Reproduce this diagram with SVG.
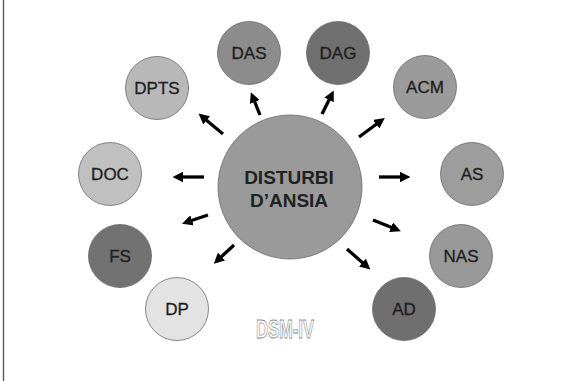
<svg xmlns="http://www.w3.org/2000/svg" width="572" height="381" viewBox="0 0 572 381">
<style>
.n{stroke:#6a6a6a;stroke-width:0.8}
.t{font-family:"Liberation Sans",Arial,sans-serif;font-size:17px;fill:#1e1e1e;stroke:#1e1e1e;stroke-width:0.3;text-anchor:middle}
.big{font-family:"Liberation Sans",Arial,sans-serif;font-size:19px;font-weight:bold;fill:#222;text-anchor:middle}
.a{stroke:#000;stroke-width:3.3;fill:none;marker-end:url(#ah)}
</style>
<defs>
<marker id="ah" viewBox="0 0 10 10" refX="2" refY="5" markerWidth="3.2" markerHeight="3.2" orient="auto" markerUnits="strokeWidth">
<path d="M0,0 L10,5 L0,10 z" fill="#000"/>
</marker>
</defs>
<rect width="572" height="381" fill="#fff"/>
<line x1="3.5" y1="0" x2="3.5" y2="381" stroke="#555" stroke-width="1.3"/>
<g id="center"><circle class="n" cx="290" cy="187" r="72" fill="#9a9a9a"/><text class="big" x="289" y="184">DISTURBI</text><text class="big" x="289" y="207">D’ANSIA</text></g>
<g id="DAS"><circle class="n" cx="249" cy="53" r="31.5" fill="#8c8c8c"/><text class="t" x="249" y="59">DAS</text></g>
<g id="DAG"><circle class="n" cx="338" cy="53" r="31.5" fill="#707070"/><text class="t" x="338" y="59">DAG</text></g>
<g id="DPTS"><circle class="n" cx="157" cy="88" r="31.5" fill="#b8b8b8"/><text class="t" x="157" y="94">DPTS</text></g>
<g id="ACM"><circle class="n" cx="425" cy="87" r="31.5" fill="#9b9b9b"/><text class="t" x="425" y="93">ACM</text></g>
<g id="DOC"><circle class="n" cx="110" cy="174" r="31.5" fill="#c0c0c0"/><text class="t" x="110" y="180">DOC</text></g>
<g id="AS"><circle class="n" cx="472" cy="174" r="31.5" fill="#9d9d9d"/><text class="t" x="472" y="180">AS</text></g>
<g id="FS"><circle class="n" cx="120" cy="256" r="31.5" fill="#727272"/><text class="t" x="120" y="262">FS</text></g>
<g id="NAS"><circle class="n" cx="461" cy="256" r="31.5" fill="#999"/><text class="t" x="461" y="262">NAS</text></g>
<g id="DP"><circle class="n" cx="177" cy="309" r="31.5" fill="#e3e3e3"/><text class="t" x="177" y="315">DP</text></g>
<g id="AD"><circle class="n" cx="404" cy="309" r="31.5" fill="#6f6f6f"/><text class="t" x="404" y="315">AD</text></g>
<g id="connectors">
<line class="a" x1="260" y1="115" x2="254" y2="100"/>
<line class="a" x1="223" y1="134" x2="205" y2="119"/>
<line class="a" x1="204" y1="177" x2="181" y2="177"/>
<line class="a" x1="322" y1="114" x2="330" y2="98"/>
<line class="a" x1="359" y1="137" x2="378" y2="123"/>
<line class="a" x1="379" y1="177" x2="402" y2="177"/>
<line class="a" x1="208" y1="215" x2="190" y2="221"/>
<line class="a" x1="234" y1="245" x2="220" y2="258"/>
<line class="a" x1="373" y1="220" x2="393" y2="228"/>
<line class="a" x1="347" y1="249" x2="364" y2="264"/>
</g>
<text x="256" y="338" textLength="58" lengthAdjust="spacingAndGlyphs" font-family="'Liberation Sans',Arial,sans-serif" font-weight="bold" font-size="26" fill="#fff" stroke="#8a8a8a" stroke-width="0.8">DSM-IV</text>
</svg>
